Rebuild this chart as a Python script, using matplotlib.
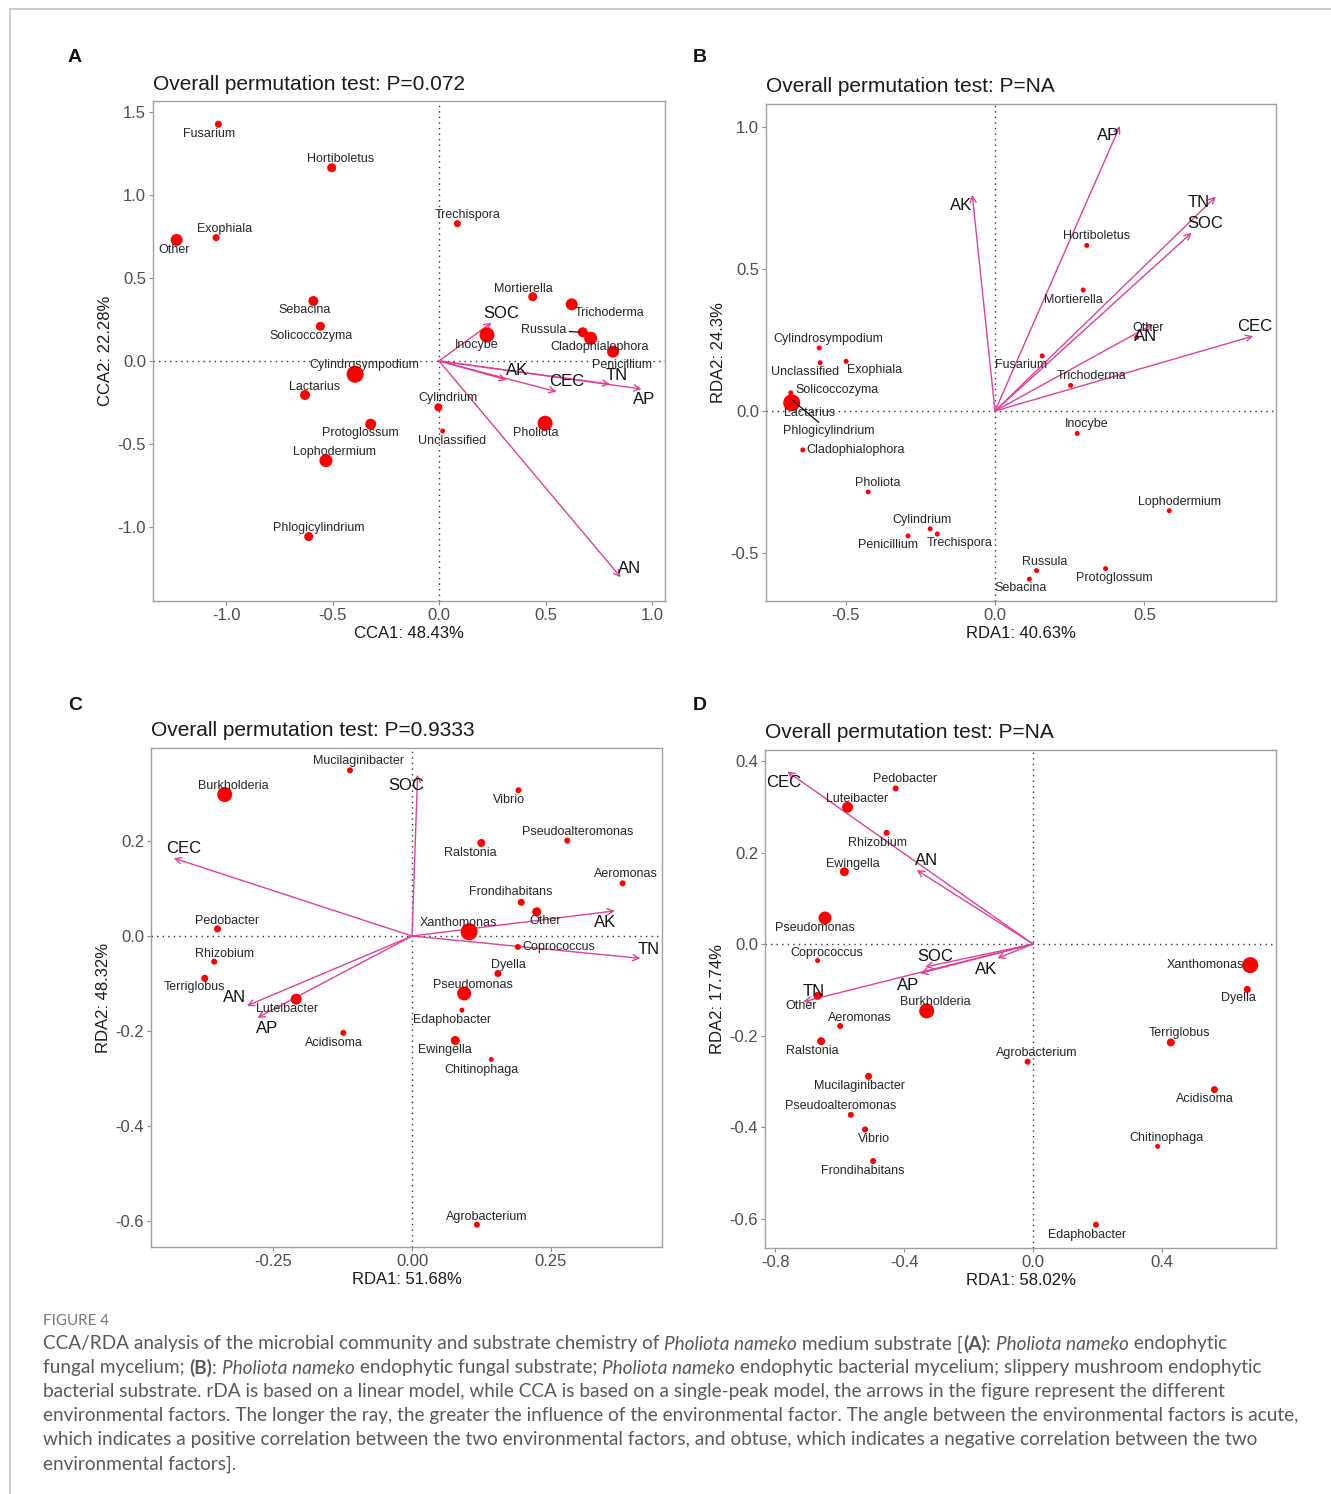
import matplotlib
matplotlib.use("Agg")
import matplotlib.pyplot as plt
from matplotlib.lines import Line2D

plt.rcParams['font.family'] = ['Liberation Sans', 'DejaVu Sans']
plt.rcParams['axes.unicode_minus'] = False

W, H = 1331, 1494
PINK = '#e0409a'

# ---- A: CCA, endophytic fungi (mycelium) ----
a_taxa = ["Fusarium", "Hortiboletus", "Exophiala", "Other", "Sebacina", "Solicoccozyma",
          "Cylindrosympodium", "Lactarius", "Protoglossum", "Lophodermium", "Phlogicylindrium",
          "Cylindrium", "Trechispora", "Unclassified", "Mortierella", "Trichoderma", "Russula",
          "Cladophialophora", "Penicillium", "Inocybe", "Pholiota"]
a_x = [-1.036, -0.504, -1.047, -1.232, -0.590, -0.557, -0.394, -0.629, -0.321, -0.531, -0.612,
       -0.003, 0.086, 0.017, 0.440, 0.623, 0.675, 0.712, 0.817, 0.225, 0.498]
a_y = [1.426, 1.164, 0.743, 0.729, 0.361, 0.209, -0.080, -0.205, -0.381, -0.600, -1.058,
       -0.279, 0.827, -0.422, 0.387, 0.341, 0.173, 0.137, 0.056, 0.157, -0.375]
a_env = ["SOC", "AK", "CEC", "TN", "AP", "AN"]
a_env_x = [0.247, 0.318, 0.552, 0.803, 0.951, 0.853]
a_env_y = [0.231, -0.114, -0.185, -0.140, -0.169, -1.303]

# ---- B: RDA, endophytic fungi (substrate) ----
b_taxa = ["Cylindrosympodium", "Unclassified", "Exophiala", "Solicoccozyma", "Lactarius",
          "Phlogicylindrium", "Cladophialophora", "Pholiota", "Cylindrium", "Trechispora",
          "Penicillium", "Hortiboletus", "Mortierella", "Fusarium", "Trichoderma", "Other",
          "Inocybe", "Lophodermium", "Russula", "Sebacina", "Protoglossum"]
b_x = [-0.588, -0.585, -0.498, -0.683, -0.680, -0.685, -0.643, -0.424, -0.217, -0.193,
       -0.291, 0.307, 0.295, 0.158, 0.253, 0.474, 0.275, 0.583, 0.139, 0.115, 0.370]
b_y = [0.222, 0.170, 0.175, 0.064, 0.029, 0.045, -0.137, -0.285, -0.415, -0.433,
       -0.440, 0.583, 0.426, 0.194, 0.090, 0.259, -0.079, -0.351, -0.562, -0.592, -0.555]
b_env = ["AP", "TN", "SOC", "CEC", "AN", "AK"]
b_env_x = [0.418, 0.739, 0.658, 0.864, 0.529, -0.076]
b_env_y = [1.004, 0.755, 0.628, 0.264, 0.306, 0.761]

# ---- C: RDA, endophytic bacteria (mycelium) ----
c_taxa = ["Mucilaginibacter", "Burkholderia", "Pedobacter", "Rhizobium", "Terriglobus",
          "Luteibacter", "Acidisoma", "Vibrio", "Pseudoalteromonas", "Ralstonia", "Aeromonas",
          "Frondihabitans", "Other", "Xanthomonas", "Coprococcus", "Dyella", "Pseudomonas",
          "Edaphobacter", "Ewingella", "Chitinophaga", "Agrobacterium"]
c_x = [-0.112, -0.338, -0.351, -0.357, -0.374, -0.209, -0.124, 0.192, 0.280, 0.125, 0.380,
       0.197, 0.225, 0.103, 0.191, 0.155, 0.094, 0.090, 0.078, 0.143, 0.117]
c_y = [0.349, 0.298, 0.015, -0.054, -0.089, -0.133, -0.204, 0.307, 0.201, 0.196, 0.111,
       0.071, 0.051, 0.009, -0.023, -0.079, -0.121, -0.156, -0.220, -0.260, -0.608]
c_env = ["SOC", "CEC", "AN", "AP", "AK", "TN"]
c_env_x = [0.010, -0.430, -0.298, -0.279, 0.366, 0.412]
c_env_y = [0.340, 0.164, -0.147, -0.172, 0.053, -0.047]

# ---- D: RDA, endophytic bacteria (substrate) ----
d_taxa = ["Pedobacter", "Luteibacter", "Rhizobium", "Ewingella", "Pseudomonas", "Coprococcus",
          "Other", "Aeromonas", "Ralstonia", "Burkholderia", "Agrobacterium", "Mucilaginibacter",
          "Pseudoalteromonas", "Vibrio", "Frondihabitans", "Xanthomonas", "Dyella", "Terriglobus",
          "Acidisoma", "Chitinophaga", "Edaphobacter"]
d_x = [-0.426, -0.575, -0.454, -0.585, -0.645, -0.668, -0.668, -0.598, -0.657, -0.330, -0.017,
       -0.510, -0.565, -0.521, -0.496, 0.673, 0.664, 0.427, 0.562, 0.386, 0.195]
d_y = [0.340, 0.299, 0.243, 0.158, 0.057, -0.036, -0.113, -0.179, -0.212, -0.146, -0.257,
       -0.289, -0.373, -0.405, -0.474, -0.046, -0.099, -0.215, -0.318, -0.442, -0.613]
d_env = ["CEC", "AN", "SOC", "AK", "AP", "TN"]
d_env_x = [-0.762, -0.361, -0.335, -0.111, -0.350, -0.712]
d_env_y = [0.377, 0.162, -0.050, -0.031, -0.064, -0.126]

# point radii (px), label offsets (px) - layout only
a_size = [3.5, 4.5, 3.5, 6, 5, 4.5, 8.5, 5, 5.5, 6.5, 4.5, 4, 3.5, 2.5, 4.5, 6, 5, 6.5, 6, 7.5, 7.5]
b_size = [2.5, 2.5, 2.5, 2.5, 8.5] + [2.5] * 16
c_size = [3, 7.5, 3.5, 3, 3.5, 5.5, 3, 3, 3, 4, 3, 3.5, 4.5, 8.5, 3, 3.5, 7, 2.5, 4.5, 2.5, 3]
d_size = [3, 5.5, 3, 4.5, 6.5, 2.5, 4, 3, 4, 7.5, 3, 3.5, 3, 3, 3, 8, 3.5, 4, 3.5, 2.5, 3]

a_off = [(-9, -10), (9, 9), (9, 9), (-3, -10), (-9, -9), (-9, -10), (9, 9), (9, 8), (-10, -9),
         (9, 9), (10, 9), (10, 9), (10, 9), (9, -10), (-9, 8), (38, -9), (-39, 2), (9, -9),
         (9, -13), (-10, -10), (-9, -10)]
b_off = [(9, 9), (-15, -9), (28, -9), (46, 3), (18, -10), (39, -33), (53, 0), (10, 9), (-8, 9),
         (22, -9), (-20, -9), (10, 9), (-10, -10), (-21, -9), (21, 9), (11, 9), (9, 9), (10, 9),
         (8, 9), (-9, -9), (9, -9)]
c_off = [(9, 9), (9, 9), (10, 8), (10, 8), (-10, -9), (-9, -10), (-9, -10), (-10, -10), (10, 9),
         (-11, -10), (3, 9), (-10, 10), (8, -9), (-11, 9), (41, 0), (10, 9), (9, 8), (-10, -10),
         (-10, -10), (-10, -11), (10, 8)]
d_off = [(9, 9), (9, 8), (-9, -10), (9, 8), (-10, -10), (9, 8), (-16, -10), (20, 8), (-9, -10),
         (9, 9), (9, 9), (-9, -10), (-10, 9), (9, -10), (-10, -10), (-45, 0), (-9, -9), (9, 9),
         (-9, -9), (9, 8), (-9, -10)]
a_env_off = [(10, 9), (10, 9), (10, 10), (7, 9), (3, -10), (9, 9)]
b_env_off = [(-12, -10), (-17, -6), (14, 9), (1, 10), (-8, -12), (-11, -11)]
c_env_off = [(-11, -11), (10, 10), (-12, 8), (10, -11), (-10, -12), (8, 9)]
d_env_off = [(-4, -11), (10, 9), (10, 10), (-11, -11), (-12, -12), (10, 10)]


def fig_xy(px, py):
    return px / W, 1 - py / H


fig = plt.figure(figsize=(W / 100, H / 100), dpi=100)


def draw_panel(box, letter, letter_xy, title, xlab, ylab, xlim, ylim, xticks, xfmt, yticks, yfmt,
               taxa, xs, ys, sizes, offs, env, ex, ey, eoffs, leaders=()):
    x0, y0, x1, y1 = box
    ax = fig.add_axes([x0 / W, 1 - y1 / H, (x1 - x0) / W, (y1 - y0) / H])
    ax.set_xlim(xlim)
    ax.set_ylim(ylim)
    ax.set_xticks(xticks)
    ax.set_xticklabels([xfmt.format(v) for v in xticks])
    ax.set_yticks(yticks)
    ax.set_yticklabels([yfmt.format(v) for v in yticks])
    ax.tick_params(length=3, width=0.8, color='#8a8a8a', labelsize=12,
                   labelcolor='#4d4d4d', pad=2)
    for s in ax.spines.values():
        s.set_color('#a0a0a0')
        s.set_linewidth(1.0)
    ax.axhline(0, color='#333333', lw=1, ls=(0, (1, 3)), zorder=1)
    ax.axvline(0, color='#333333', lw=1, ls=(0, (1, 3)), zorder=1)

    for name, tx, ty, (dx, dy) in zip(env, ex, ey, eoffs):
        ax.annotate('', xy=(tx, ty), xytext=(0, 0),
                    arrowprops=dict(arrowstyle='->', color=PINK, lw=1.0,
                                    shrinkA=0, shrinkB=0, mutation_scale=11), zorder=2)
        ax.annotate(name, xy=(tx, ty), xytext=(dx, dy), textcoords='offset pixels',
                    ha='center', va='center', fontsize=12, color='#111111', zorder=5)

    rs = [(2 * r * 0.72) ** 2 for r in sizes]
    ax.scatter(xs, ys, s=rs, color='#ff0000', linewidths=0, zorder=3)
    for name, px, py, (dx, dy) in zip(taxa, xs, ys, offs):
        kw = {}
        if name in leaders:
            kw['arrowprops'] = dict(arrowstyle='-', color='#111111', lw=0.9,
                                    shrinkA=0, shrinkB=2)
        ax.annotate(name, xy=(px, py), xytext=(dx, dy), textcoords='offset pixels',
                    ha='center', va='center', fontsize=9, color='#262626', zorder=4, **kw)

    ax.set_xlabel(xlab, fontsize=12, color='#1a1a1a', labelpad=2)
    ax.set_ylabel(ylab, fontsize=12, color='#1a1a1a', labelpad=3)
    tx, ty = fig_xy(x0, y0 - 17)
    fig.text(tx, ty, title, fontsize=15, color='#1a1a1a', ha='left', va='center')
    lx, ly = fig_xy(*letter_xy)
    fig.text(lx, ly, letter, fontsize=14, fontweight='bold', color='#111111',
             ha='center', va='center')
    return ax


draw_panel((153, 101, 665, 601), 'A', (75, 58), 'Overall permutation test: P=0.072',
           'CCA1: 48.43%', 'CCA2: 22.28%', (-1.343, 1.061), (-1.446, 1.566),
           [-1.0, -0.5, 0.0, 0.5, 1.0], '{:.1f}', [-1.0, -0.5, 0.0, 0.5, 1.0, 1.5], '{:.1f}',
           a_taxa, a_x, a_y, a_size, a_off, a_env, a_env_x, a_env_y, a_env_off,
           leaders=('Russula',))
draw_panel((766, 104, 1276, 601), 'B', (700, 58), 'Overall permutation test: P=NA',
           'RDA1: 40.63%', 'RDA2: 24.3%', (-0.766, 0.940), (-0.669, 1.081),
           [-0.5, 0.0, 0.5], '{:.1f}', [-0.5, 0.0, 0.5, 1.0], '{:.1f}',
           b_taxa, b_x, b_y, b_size, b_off, b_env, b_env_x, b_env_y, b_env_off,
           leaders=('Phlogicylindrium',))
draw_panel((151, 748, 662, 1247), 'C', (75, 706), 'Overall permutation test: P=0.9333',
           'RDA1: 51.68%', 'RDA2: 48.32%', (-0.471, 0.451), (-0.655, 0.396),
           [-0.25, 0.0, 0.25], '{:.2f}', [-0.6, -0.4, -0.2, 0.0, 0.2], '{:.1f}',
           c_taxa, c_x, c_y, c_size, c_off, c_env, c_env_x, c_env_y, c_env_off)
draw_panel((765, 750, 1276, 1248), 'D', (700, 706), 'Overall permutation test: P=NA',
           'RDA1: 58.02%', 'RDA2: 17.74%', (-0.831, 0.753), (-0.664, 0.424),
           [-0.8, -0.4, 0.0, 0.4], '{:.1f}', [-0.6, -0.4, -0.2, 0.0, 0.2, 0.4], '{:.1f}',
           d_taxa, d_x, d_y, d_size, d_off, d_env, d_env_x, d_env_y, d_env_off)

# outer frame (top and left rules)
fx, fy = fig_xy(10, 9)
fig.add_artist(Line2D([fx, 1.0], [fy, fy], color='#c4c4c4', lw=1.2))
fig.add_artist(Line2D([fx, fx], [fy, 0.0], color='#c4c4c4', lw=1.2))

# caption
cap_lines = [
    [("CCA/RDA analysis of the microbial community and substrate chemistry of ", 'n'),
     ("Pholiota nameko", 'i'), (" medium substrate [", 'n'), ("(A)", 'b'), (": ", 'n'),
     ("Pholiota nameko", 'i'), (" endophytic", 'n')],
    [("fungal mycelium; ", 'n'), ("(B)", 'b'), (": ", 'n'), ("Pholiota nameko", 'i'),
     (" endophytic fungal substrate; ", 'n'), ("Pholiota nameko", 'i'),
     (" endophytic bacterial mycelium; slippery mushroom endophytic", 'n')],
    [("bacterial substrate. rDA is based on a linear model, while CCA is based on a single-peak "
      "model, the arrows in the figure represent the different", 'n')],
    [("environmental factors. The longer the ray, the greater the influence of the environmental "
      "factor. The angle between the environmental factors is acute,", 'n')],
    [("which indicates a positive correlation between the two environmental factors, and obtuse, "
      "which indicates a negative correlation between the two", 'n')],
    [("environmental factors].", 'n')],
]

renderer = fig.canvas.get_renderer()
CAP_FONT = ['Lato', 'DejaVu Sans']
CAP_COLOR = '#5a5a5a'


def style_kw(st, size):
    kw = dict(fontsize=size, family=CAP_FONT, color=CAP_COLOR)
    if st == 'i':
        kw['style'] = 'italic'
    if st == 'b':
        kw['fontweight'] = 'bold'
    return kw


def text_width(s, st, size):
    # measure with a bar appended so that trailing spaces count
    t1 = fig.text(0, 0, s + '|', **style_kw(st, size))
    t2 = fig.text(0, 0, '|', **style_kw(st, size))
    w = t1.get_window_extent(renderer).width - t2.get_window_extent(renderer).width
    t1.remove()
    t2.remove()
    return w


# size the caption so the longest line spans its width
cap_size = 12.0 * 1253 / text_width(cap_lines[3][0][0], 'n', 12.0)

fx, fy = fig_xy(43, 1321)
fig.text(fx, fy, "FIGURE 4", fontsize=cap_size * 0.8, family=CAP_FONT, color='#777777',
         ha='left', va='center')
for i, parts in enumerate(cap_lines):
    xpix = 43
    for s, st in parts:
        fx, fy = fig_xy(xpix, 1344 + 24 * i)
        fig.text(fx, fy, s, ha='left', va='center', **style_kw(st, cap_size))
        xpix += text_width(s, st, cap_size)

fig.savefig('out.png', dpi=100)
